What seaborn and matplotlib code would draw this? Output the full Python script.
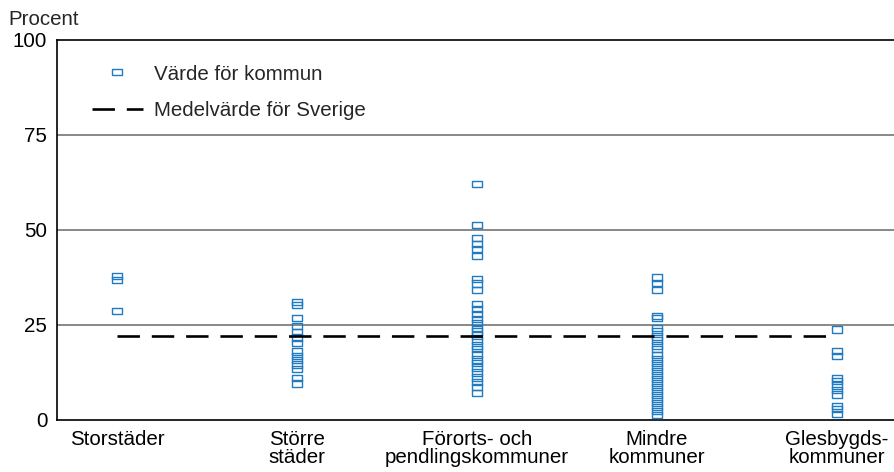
import pandas as pd
import numpy as np
import matplotlib
matplotlib.use("Agg")
import matplotlib.pyplot as plt
from matplotlib.lines import Line2D
import seaborn as sns

# Data (percent per municipality)
categories = ["Storstäder", "Större\nstäder", "Förorts- och\npendlingskommuner",
              "Mindre\nkommuner", "Glesbygds-\nkommuner"]

storstader = [37.9, 36.8, 28.6]
storre_stader = [31.1, 30.3, 26.8, 24.7, 23.2, 21.7, 20.3, 18.0, 16.8, 15.8,
                 14.6, 13.4, 11.1, 9.6]
forort = [62.1, 51.3, 47.9, 46.4, 45.0, 43.2, 37.1, 35.9, 34.3, 30.5, 29.2,
          27.9, 26.6, 25.5, 24.3, 23.3, 22.2, 20.9, 19.6, 18.6, 17.2, 15.9,
          14.9, 13.8, 12.5, 11.2, 9.9, 8.6, 7.2]
mindre = [37.5, 36.0, 34.3, 27.4, 26.8, 24.3, 23.3, 22.0, 20.9, 19.6, 18.6,
          17.1, 16.1, 15.0, 13.9, 12.9, 11.8, 10.8, 9.7, 8.7, 7.6, 6.6, 5.5,
          4.5, 3.4, 2.4, 1.3]
glesbygd = [23.8, 18.2, 16.8, 11.1, 10.3, 9.1, 7.9, 6.7, 3.7, 2.8, 1.6]

sweden_mean = 22.0
yticks = [0, 25, 50, 75, 100]

groups = [storstader, storre_stader, forort, mindre, glesbygd]
df = pd.DataFrame({
    "kategori": np.repeat(categories, [len(g) for g in groups]),
    "procent": np.concatenate(groups),
})

sns.set_style("white")
plt.rcParams["font.family"] = ["Liberation Sans", "DejaVu Sans"]
fs = 14.8

blue = "#1f7bc1"
rect = [(-1, -0.6), (1, -0.6), (1, 0.6), (-1, 0.6), (-1, -0.6)]

fig = plt.figure(figsize=(8.95, 4.72), dpi=100)
ax = fig.add_axes([0.0637, 0.1102, 0.9363, 0.8051])

sns.stripplot(data=df, x="kategori", y="procent", order=categories, jitter=False,
              marker=rect, s=7.5, linewidth=1.0, color=blue, ax=ax, zorder=3)
# hollow markers
for coll in ax.collections:
    coll.set_facecolor("none")
    coll.set_edgecolor(blue)

ax.hlines(sweden_mean, 0, len(categories) - 1, colors="black", linewidth=1.9,
          linestyles=(0, (8.5, 4.5)), zorder=4)

ax.set_xlim(-0.333, 4.322)
ax.set_ylim(0, 100)
ax.set_yticks(yticks)
ax.set_yticklabels([str(t) for t in yticks])
ax.set_xlabel("")
ax.set_ylabel("")
ax.tick_params(axis="both", length=0, labelsize=fs, colors="black")
ax.tick_params(axis="y", pad=7)
ax.tick_params(axis="x", pad=7)
for lab in ax.get_xticklabels():
    lab.set_linespacing(0.92)

for t in yticks[1:-1]:
    ax.axhline(t, color="#7f7f7f", linewidth=1.3, zorder=1)

for side in ["left", "top", "bottom"]:
    ax.spines[side].set_color("black")
    ax.spines[side].set_linewidth(1.2)
ax.spines["right"].set_visible(False)

fig.text(0.009, 0.948, "Procent", fontsize=fs, ha="left", va="baseline")

handles = [
    Line2D([], [], linestyle="none", marker=rect, markersize=7.5,
           markerfacecolor="none", markeredgecolor=blue, markeredgewidth=1.0),
    Line2D([], [], color="black", linewidth=1.9, linestyle=(0, (8.5, 4.5))),
]
ax.legend(handles, ["Värde för kommun", "Medelvärde för Sverige"],
          loc="upper left", bbox_to_anchor=(0.02, 0.984), frameon=False,
          handlelength=2.45, handletextpad=0.55, labelspacing=0.85, fontsize=fs)

fig.savefig("out.png", dpi=100)
